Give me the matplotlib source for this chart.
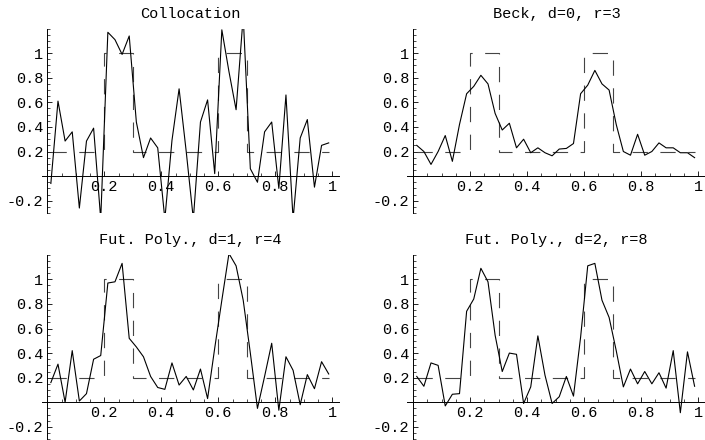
import matplotlib
matplotlib.use("Agg")
import matplotlib.pyplot as plt
from matplotlib.ticker import FixedLocator, NullFormatter

plt.rcParams["font.family"] = ["Liberation Mono", "DejaVu Sans Mono"]
plt.rcParams["axes.unicode_minus"] = False
plt.rcParams["lines.scale_dashes"] = False

# sample points
x = [0.0125, 0.0375, 0.0625, 0.0875, 0.1125, 0.1375, 0.1625, 0.1875,
     0.2125, 0.2375, 0.2625, 0.2875, 0.3125, 0.3375, 0.3625, 0.3875,
     0.4125, 0.4375, 0.4625, 0.4875, 0.5125, 0.5375, 0.5625, 0.5875,
     0.6125, 0.6375, 0.6625, 0.6875, 0.7125, 0.7375, 0.7625, 0.7875,
     0.8125, 0.8375, 0.8625, 0.8875, 0.9125, 0.9375, 0.9625, 0.9875]

# exact (step) solution, drawn dashed
true_x = [0.0125, 0.2, 0.2, 0.3, 0.3, 0.6, 0.6, 0.7, 0.7, 0.9875]
true_y = [0.2, 0.2, 1.0, 1.0, 0.2, 0.2, 1.0, 1.0, 0.2, 0.2]

collocation = [-0.06, 0.61, 0.285, 0.36, -0.26, 0.285, 0.39, -0.35,
               1.17, 1.11, 0.99, 1.14, 0.44, 0.15, 0.31, 0.23,
               -0.35, 0.29, 0.71, 0.20, -0.35, 0.44, 0.62, 0.02,
               1.19, 0.85, 0.54, 1.30, 0.06, -0.05, 0.36, 0.44,
               -0.10, 0.66, -0.35, 0.31, 0.46, -0.09, 0.25, 0.27]

beck = [0.25, 0.20, 0.095, 0.20, 0.33, 0.12, 0.42, 0.67,
        0.73, 0.82, 0.75, 0.51, 0.375, 0.43, 0.23, 0.30,
        0.19, 0.23, 0.19, 0.165, 0.22, 0.225, 0.265, 0.67,
        0.74, 0.86, 0.75, 0.70, 0.42, 0.20, 0.17, 0.34,
        0.17, 0.20, 0.27, 0.23, 0.23, 0.19, 0.19, 0.15]

futpoly_d1 = [0.16, 0.31, 0.0, 0.42, 0.01, 0.07, 0.35, 0.38,
              0.97, 0.98, 1.13, 0.52, 0.45, 0.37, 0.21, 0.12,
              0.105, 0.32, 0.14, 0.21, 0.10, 0.27, 0.03, 0.44,
              0.83, 1.21, 1.11, 0.83, 0.40, -0.05, 0.21, 0.48,
              -0.065, 0.37, 0.26, -0.02, 0.225, 0.11, 0.33, 0.23]

futpoly_d2 = [0.21, 0.13, 0.32, 0.30, -0.03, 0.065, 0.07, 0.74,
              0.84, 1.09, 0.98, 0.545, 0.25, 0.40, 0.39, -0.01,
              0.125, 0.54, 0.22, -0.01, 0.045, 0.21, 0.05, 0.53,
              1.11, 1.13, 0.83, 0.69, 0.42, 0.125, 0.27, 0.15,
              0.25, 0.15, 0.24, 0.115, 0.42, -0.085, 0.41, 0.13]

titles = ["Collocation", "Beck, d=0, r=3",
          "Fut. Poly., d=1, r=4", "Fut. Poly., d=2, r=8"]

xticks = [0.2, 0.4, 0.6, 0.8, 1.0]
xticklabels = ["0.2", "0.4", "0.6", "0.8", "1"]
yticks = [-0.2, 0.2, 0.4, 0.6, 0.8, 1.0]
yticklabels = ["-0.2", "0.2", "0.4", "0.6", "0.8", "1"]
minor_ticks = [i * 0.05 for i in range(-6, 25)]


def draw_panel(ax, values, title):
    ax.plot(true_x, true_y, color="#444444", lw=0.8, dashes=(11, 9))
    ax.plot(x, values, color="black", lw=0.8)

    ax.set_xlim(-0.02, 1.025)
    ax.set_ylim(-0.3, 1.2)

    # Mathematica-style axes crossing at the origin
    for side in ("top", "right"):
        ax.spines[side].set_visible(False)
    ax.spines["left"].set_position(("data", 0))
    ax.spines["bottom"].set_position(("data", 0))
    for side in ("left", "bottom"):
        ax.spines[side].set_linewidth(0.7)

    ax.xaxis.set_major_locator(FixedLocator(xticks))
    ax.set_xticklabels(xticklabels)
    ax.yaxis.set_major_locator(FixedLocator(yticks))
    ax.set_yticklabels(yticklabels)
    ax.xaxis.set_minor_locator(FixedLocator([t for t in minor_ticks if t > 0.01]))
    ax.yaxis.set_minor_locator(FixedLocator(minor_ticks))
    ax.xaxis.set_minor_formatter(NullFormatter())
    ax.yaxis.set_minor_formatter(NullFormatter())
    ax.tick_params(which="major", direction="in", length=3.5, width=0.6,
                   labelsize=11, pad=3)
    ax.tick_params(which="minor", direction="in", length=2, width=0.5)

    ax.set_title(title, fontsize=11, pad=7.5)


fig = plt.figure(figsize=(7.05, 4.4), dpi=100)
lefts = [0.059, 0.578]
bottoms = [0.516, 0.002]
w, h = 0.4224, 0.419
series = [collocation, beck, futpoly_d1, futpoly_d2]

for i, (vals, title) in enumerate(zip(series, titles)):
    ax = fig.add_axes([lefts[i % 2], bottoms[i // 2], w, h])
    ax.patch.set_visible(False)
    draw_panel(ax, vals, title)

fig.savefig("out.png", dpi=100)
